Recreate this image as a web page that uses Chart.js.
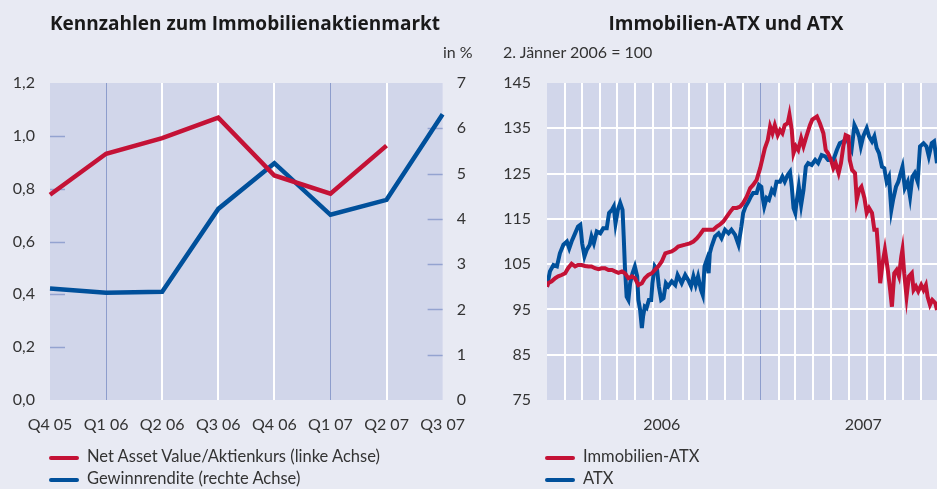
<!DOCTYPE html>
<html>
<head>
<meta charset="utf-8">
<script src="https://cdn.jsdelivr.net/npm/chart.js@4.4.1/dist/chart.umd.min.js"></script>
<style>
  html, body { margin:0; padding:0; background:#e8eaf3; width:937px; height:489px; overflow:hidden; }
  body { position:relative; font-family: Lato, "Open Sans", sans-serif; color:#333; }
  .abs { position:absolute; white-space:nowrap; }
  .title { font-family:"Open Sans", Lato, sans-serif; font-weight:bold; font-size:19px; color:#1a1a1a; top:10px; }
  .note { font-size:16px; top:42px; }
  .leg { font-size:16.5px; }
  .sw { position:absolute; width:30px; height:4px; border-radius:2px; }
  #c1 { position:absolute; left:0; top:0; }
  #c2 { position:absolute; left:470px; top:0; }
</style>
</head>
<body>
<canvas id="c1" width="480" height="489"></canvas>
<canvas id="c2" width="467" height="489"></canvas>

<div class="abs title" style="left:0;width:490px;text-align:center;">Kennzahlen zum Immobilienaktienmarkt</div>
<div class="abs title" style="left:470px;width:512px;text-align:center;">Immobilien-ATX und ATX</div>
<div class="abs note" style="left:443px;">in %</div>
<div class="abs note" style="left:503px;">2. Jänner 2006 = 100</div>

<div class="sw" style="left:49px;top:456px;background:#c41236;"></div>
<div class="abs leg" style="left:87px;top:446px;">Net Asset Value/Aktienkurs (linke Achse)</div>
<div class="sw" style="left:49px;top:478px;background:#00509b;"></div>
<div class="abs leg" style="left:87px;top:468px;">Gewinnrendite (rechte Achse)</div>

<div class="sw" style="left:545px;top:456px;background:#c41236;"></div>
<div class="abs leg" style="left:583px;top:446px;">Immobilien-ATX</div>
<div class="sw" style="left:545px;top:478px;background:#00509b;"></div>
<div class="abs leg" style="left:583px;top:468px;">ATX</div>

<script>
// ---------- Left chart data ----------
const quarters = ['Q4 05','Q1 06','Q2 06','Q3 06','Q4 06','Q1 07','Q2 07','Q3 07'];
const navRatio = [0.777, 0.932, 0.991, 1.069, 0.850, 0.781, 0.963, null];
const earningsYield = [2.46, 2.37, 2.39, 4.22, 5.23, 4.09, 4.42, 6.31];
const leftAxisTicks = [0.2, 0.4, 0.6, 0.8, 1.0];
const rightAxisTicks = [1, 2, 3, 4, 5, 6];

// ---------- Right chart data (days since 1 Jan 2006) ----------
const immoDays = [0,2,8,14,19,25,31,36,42,48,53,59,65,71,76,82,88,93,99,105,111,116,122,128,133,139,145,150,156,162,167,173,179,184,190,196,202,207,213,219,224,236,244,250,256,261,267,273,278,284,290,295,301,307,313,318,324,330,335,341,347,352,358,364,368,372,377,381,385,389,394,398,402,406,411,414,418,421,425,429,434,438,443,449,453,461,466,472,476,480,485,489,493,498,502,506,510,515,517,521,526,529,533,537,542,546,550,555,559,563,566,569,573,577,582,586,589,593,597,601,605,607,610,614,618,623,626,630,634,639,643,647,650,654,658,663,666];
const immoValues = [100,100.8,101.2,101.9,102.3,102.6,103.0,104.1,105.1,104.5,104.8,104.8,104.6,104.5,104.5,104.1,103.9,104.1,104.1,103.7,103.7,103.4,103.1,103.4,103.0,101.9,102.3,101.9,100.4,100.8,101.9,102.6,103.0,103.7,104.5,105.6,107.4,107.6,107.8,108.3,108.9,109.3,109.6,110.0,110.7,111.5,112.6,112.6,112.6,112.6,113.3,113.7,114.4,115.5,116.6,117.4,117.4,117.7,118.5,119.9,121.8,122.5,123.6,126.2,128.4,130.6,132.4,135.4,133.9,135.7,133.5,134.6,133.9,135.7,136.1,138.0,134.6,129.5,131.0,130.2,132.8,131.0,133.2,135.7,136.9,137.6,136.1,133.9,130.2,129.5,128.0,126.2,127.3,125.1,127.3,131.0,133.5,133.2,128.0,125.8,125.1,119.2,121.4,122.1,119.6,116.3,117.4,116.3,112.6,112.6,107.4,100.8,105.2,108.2,103.7,99.3,95.6,103.0,103.7,102.3,106.7,108.2,103.0,97.8,102.3,103.0,99.3,100.1,99.0,100.4,99.3,100.4,97.8,96.0,97.1,96.4,94.9];
const atxDays = [0,5,11,17,22,28,34,38,42,48,53,57,60,64,68,73,76,80,85,91,96,102,106,111,114,117,121,125,129,131,133,136,139,142,146,150,154,156,159,162,164,167,170,174,178,180,184,188,191,195,199,203,207,213,219,223,230,236,241,246,250,254,258,263,266,269,273,276,278,281,284,287,293,298,304,310,315,321,327,332,335,339,344,348,352,358,362,366,368,371,375,379,384,388,392,398,402,406,411,415,418,421,424,426,430,434,438,442,446,452,458,463,469,475,480,489,495,500,506,512,517,520,525,529,533,536,540,546,550,555,559,563,567,572,576,580,584,588,591,596,600,603,607,611,616,620,624,628,633,637,643,648,652,657,661,666];
const atxValues = [100,103.4,104.8,104.5,107.4,109.3,110.0,108.5,110.0,111.8,113.3,113.7,109.6,106.7,108.2,109.3,111.1,109.6,112.2,111.8,112.9,112.9,116.3,117.0,117.7,114.0,117.0,118.5,117.0,111.1,104.5,97.8,97.1,100.8,103.0,104.5,102.3,97.1,94.9,90.9,93.4,95.6,95.3,97.1,97.1,100.8,104.5,103.7,100.1,97.1,97.5,100.8,100.1,101.2,100.4,102.6,100.8,102.6,101.5,100.1,102.3,100.4,102.3,99.3,98.2,104.5,106.0,103.0,107.4,108.9,110.0,111.1,111.8,110.7,112.6,111.8,112.6,111.5,109.3,113.3,116.3,117.7,118.8,119.9,120.7,120.7,122.5,122.1,119.9,117.7,119.6,119.2,121.4,120.7,123.2,123.2,124.3,123.2,124.7,125.4,122.1,117.4,116.3,118.5,122.1,118.1,121.4,126.5,127.3,126.9,128.0,127.3,129.1,128.8,128.0,128.0,130.2,131.7,132.1,132.8,131.0,130.2,135.7,134.6,133.2,131.0,133.2,135.0,133.2,132.1,133.2,130.6,129.5,126.5,126.2,123.2,124.3,117.0,119.2,122.1,123.2,124.7,126.5,121.8,123.2,119.9,124.3,125.1,123.2,131.0,131.7,131.0,128.8,131.7,132.1,127.3];
const yearLabels = ['2006', '2007'];
const yearLabelDays = [196, 540];
const xEndDay = 666;

// ---------- Styling ----------
const RED = '#c41236', BLUE = '#00509b', PLOT = '#d1d6ea', GRIDBLUE = '#8d9dcc', TXT = '#333333';
const FONT = { family: 'Lato, "Open Sans", sans-serif', size: 16 };

const plotBg = {
  id: 'plotBg',
  beforeDraw(chart) {
    const a = chart.chartArea, c = chart.ctx;
    c.save(); c.fillStyle = PLOT; c.fillRect(a.left, a.top, a.right - a.left, a.bottom - a.top); c.restore();
  }
};

const innerTicks = {
  id: 'innerTicks',
  beforeDatasetsDraw(chart) {
    const c = chart.ctx, a = chart.chartArea;
    c.save(); c.strokeStyle = '#94a3d0'; c.lineWidth = 1.5;
    leftAxisTicks.forEach(v => {
      const y = Math.round(chart.scales.y.getPixelForValue(v)) + 0.5;
      c.beginPath(); c.moveTo(a.left, y); c.lineTo(a.left + 15, y); c.stroke();
    });
    rightAxisTicks.forEach(v => {
      const y = Math.round(chart.scales.y1.getPixelForValue(v)) + 0.5;
      c.beginPath(); c.moveTo(a.right - 15, y); c.lineTo(a.right, y); c.stroke();
    });
    c.restore();
  }
};

new Chart(document.getElementById('c1'), {
  type: 'line',
  data: {
    labels: quarters,
    datasets: [
      { label: 'Net Asset Value/Aktienkurs (linke Achse)', data: navRatio, yAxisID: 'y', borderColor: RED, borderWidth: 4.5, pointRadius: 0, tension: 0, spanGaps: false },
      { label: 'Gewinnrendite (rechte Achse)', data: earningsYield, yAxisID: 'y1', borderColor: BLUE, borderWidth: 4.5, pointRadius: 0, tension: 0 }
    ]
  },
  options: {
    responsive: false, animation: false,
    layout: { padding: { top: 83, left: 0, right: 0, bottom: 0 } },
    plugins: { legend: { display: false }, tooltip: { enabled: false } },
    scales: {
      x: {
        offset: false,
        border: { display: false },
        grid: {
          drawTicks: false,
          color: ctx => (ctx.index === 1 || ctx.index === 5) ? GRIDBLUE : ((ctx.index === 0 || ctx.index === 7) ? 'rgba(0,0,0,0)' : '#ffffff'),
          lineWidth: ctx => (ctx.index === 1 || ctx.index === 5) ? 1 : 2
        },
        ticks: { color: TXT, font: FONT, padding: 15, maxRotation: 0, autoSkip: false },
        afterFit(s) { s.height = 89; }
      },
      y: {
        position: 'left', min: 0, max: 1.2,
        border: { display: false },
        grid: { display: false, drawTicks: false },
        ticks: { stepSize: 0.2, color: TXT, font: FONT, padding: 15, callback: v => Number(v).toFixed(1).replace('.', ',') },
        afterFit(s) { s.width = 50; }
      },
      y1: {
        position: 'right', min: 0, max: 7,
        border: { display: false },
        grid: { display: false, drawTicks: false },
        ticks: { stepSize: 1, color: TXT, font: FONT, padding: 14 },
        afterFit(s) { s.width = 30; }
      }
    }
  },
  plugins: [plotBg, innerTicks]
});

// month-boundary day offsets computed from calendar
const monthStarts = [];
for (let m = 0; m < 24; m++) {
  const d = (Date.UTC(2006, m, 1) - Date.UTC(2006, 0, 1)) / 86400000;
  if (d <= xEndDay) monthStarts.push(d);
}

new Chart(document.getElementById('c2'), {
  type: 'line',
  data: {
    datasets: [
      { label: 'Immobilien-ATX', data: immoDays.map((d, i) => ({ x: d, y: immoValues[i] })), borderColor: RED, borderWidth: 4, pointRadius: 0, tension: 0 },
      { label: 'ATX', data: atxDays.map((d, i) => ({ x: d, y: atxValues[i] })), borderColor: BLUE, borderWidth: 4, pointRadius: 0, tension: 0 }
    ]
  },
  options: {
    responsive: false, animation: false,
    layout: { padding: { top: 83, left: 0, right: 0, bottom: 0 } },
    plugins: { legend: { display: false }, tooltip: { enabled: false } },
    scales: {
      x: {
        type: 'linear', min: 0, max: xEndDay,
        border: { display: false },
        afterBuildTicks(s) {
          s.ticks = monthStarts.map(v => ({ value: v })).concat(yearLabelDays.map(v => ({ value: v })));
        },
        grid: {
          drawTicks: false,
          color: ctx => {
            const v = ctx.tick ? ctx.tick.value : null;
            if (v === 0 || yearLabelDays.includes(v)) return 'rgba(0,0,0,0)';
            if (v === 365) return GRIDBLUE;
            return '#ffffff';
          },
          lineWidth: ctx => (ctx.tick && ctx.tick.value === 365) ? 1 : 2
        },
        ticks: {
          color: TXT, font: FONT, padding: 15, maxRotation: 0, autoSkip: false,
          callback: v => { const i = yearLabelDays.indexOf(v); return i >= 0 ? yearLabels[i] : ''; }
        },
        afterFit(s) { s.height = 89; }
      },
      y: {
        min: 75, max: 145,
        border: { display: false },
        grid: {
          drawTicks: false,
          color: ctx => (ctx.tick && (ctx.tick.value === 75 || ctx.tick.value === 145)) ? 'rgba(0,0,0,0)' : '#ffffff',
          lineWidth: 2
        },
        ticks: { stepSize: 10, color: TXT, font: FONT, padding: 16 },
        afterFit(s) { s.width = 77; }
      }
    }
  },
  plugins: [plotBg]
});
</script>
</body>
</html>
